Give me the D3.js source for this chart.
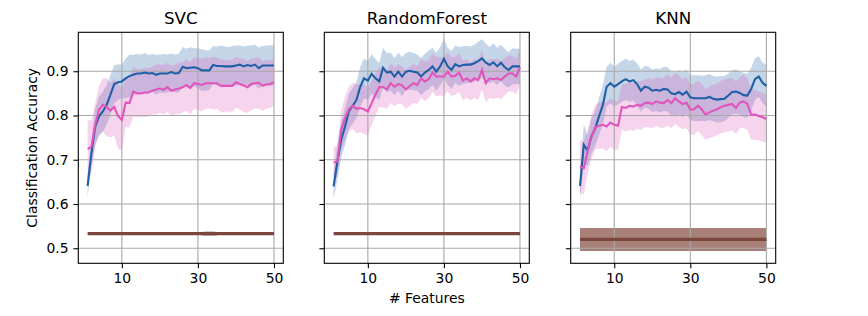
<!DOCTYPE html>
<html>
<head>
<meta charset="utf-8">
<script src="https://cdn.jsdelivr.net/npm/d3@7"></script>
<style>
  body { margin: 0; background: #fff; }
  svg { font-family: "DejaVu Sans", sans-serif; }
  .grid line { stroke: #a8a8a8; stroke-width: 1.1px; }
</style>
</head>
<body>
<svg id="chart" width="868" height="316"></svg>
<script>
var features = [1,2,3,4,5,6,7,8,9,10,11,12,13,14,15,16,17,18,19,20,21,22,23,24,25,
  26,27,28,29,30,31,32,33,34,35,36,37,38,39,40,41,42,43,44,45,46,47,48,49,50];
var models = ["SVC", "RandomForest", "KNN"];
var xTicks = [10, 30, 50];
var yTicks = [0.5, 0.6, 0.7, 0.8, 0.9];

// blue series (mean and std per number of features)
var svcBlue = [0.641,0.715,0.775,0.798,0.809,0.824,0.847,0.871,0.875,0.877,
  0.884,0.889,0.892,0.895,0.895,0.897,0.895,0.896,0.892,0.895,
  0.895,0.895,0.898,0.895,0.896,0.910,0.907,0.908,0.909,0.907,
  0.902,0.902,0.902,0.914,0.912,0.912,0.911,0.911,0.911,0.913,
  0.915,0.911,0.914,0.912,0.915,0.907,0.913,0.913,0.913,0.913];
var svcBlueStd = [0.025,0.03,0.04,0.045,0.045,0.045,0.045,0.043,0.04,0.038,
  0.045,0.048,0.045,0.044,0.043,0.044,0.042,0.043,0.045,0.043,
  0.044,0.043,0.042,0.043,0.044,0.045,0.044,0.046,0.043,0.045,
  0.047,0.046,0.045,0.043,0.044,0.046,0.045,0.044,0.046,0.045,
  0.043,0.045,0.044,0.046,0.045,0.047,0.044,0.045,0.046,0.045];
var rfBlue = [0.640,0.696,0.745,0.775,0.809,0.822,0.835,0.865,0.884,0.879,
  0.894,0.884,0.877,0.908,0.897,0.899,0.888,0.899,0.888,0.899,
  0.901,0.899,0.897,0.888,0.897,0.903,0.911,0.899,0.911,0.928,
  0.911,0.903,0.916,0.911,0.914,0.915,0.915,0.918,0.923,0.929,
  0.920,0.914,0.920,0.911,0.919,0.909,0.903,0.911,0.911,0.911];
var rfBlueStd = [0.03,0.04,0.04,0.042,0.04,0.04,0.042,0.045,0.045,0.044,
  0.045,0.043,0.042,0.045,0.044,0.043,0.042,0.043,0.044,0.042,
  0.043,0.042,0.041,0.042,0.043,0.044,0.042,0.043,0.044,0.045,
  0.042,0.043,0.042,0.044,0.043,0.042,0.041,0.042,0.043,0.044,
  0.042,0.041,0.043,0.042,0.041,0.042,0.04,0.041,0.04,0.04];
var knnBlue = [0.641,0.734,0.721,0.753,0.771,0.798,0.824,0.865,0.873,0.865,
  0.871,0.877,0.882,0.877,0.880,0.871,0.856,0.865,0.863,0.856,
  0.858,0.856,0.860,0.859,0.850,0.848,0.853,0.847,0.854,0.841,
  0.839,0.839,0.839,0.839,0.842,0.838,0.836,0.837,0.838,0.845,
  0.853,0.854,0.851,0.846,0.845,0.860,0.882,0.888,0.874,0.867];
var knnBlueStd = [0.03,0.045,0.035,0.04,0.04,0.042,0.045,0.045,0.046,0.045,
  0.046,0.046,0.047,0.046,0.046,0.047,0.048,0.047,0.048,0.048,
  0.048,0.049,0.05,0.05,0.05,0.05,0.05,0.051,0.05,0.051,
  0.052,0.052,0.051,0.052,0.052,0.051,0.052,0.052,0.051,0.05,
  0.05,0.05,0.049,0.05,0.05,0.048,0.047,0.046,0.046,0.047];

// pink series
var svcPink = [0.724,0.729,0.779,0.813,0.824,0.819,0.811,0.819,0.799,0.790,
  0.829,0.828,0.854,0.850,0.850,0.852,0.852,0.856,0.859,0.861,
  0.858,0.864,0.856,0.859,0.861,0.864,0.869,0.862,0.873,0.871,
  0.869,0.873,0.873,0.873,0.873,0.867,0.867,0.867,0.867,0.875,
  0.871,0.868,0.864,0.871,0.873,0.874,0.867,0.870,0.871,0.875];
var svcPinkStd = [0.065,0.06,0.05,0.055,0.06,0.066,0.06,0.065,0.073,0.07,
  0.055,0.055,0.056,0.055,0.054,0.056,0.055,0.054,0.056,0.055,
  0.056,0.055,0.057,0.056,0.058,0.057,0.058,0.06,0.058,0.059,
  0.06,0.058,0.057,0.06,0.058,0.059,0.06,0.058,0.059,0.057,
  0.058,0.06,0.058,0.059,0.057,0.058,0.056,0.055,0.054,0.052];
var rfPink = [0.694,0.696,0.768,0.794,0.814,0.822,0.815,0.817,0.814,0.809,
  0.828,0.847,0.864,0.864,0.859,0.873,0.865,0.871,0.868,0.859,
  0.866,0.873,0.869,0.884,0.877,0.882,0.897,0.888,0.888,0.888,
  0.899,0.888,0.890,0.897,0.879,0.884,0.877,0.884,0.880,0.903,
  0.873,0.884,0.882,0.884,0.880,0.888,0.895,0.895,0.888,0.909];
var rfPinkStd = [0.035,0.035,0.045,0.05,0.05,0.052,0.055,0.055,0.055,0.055,
  0.05,0.048,0.045,0.046,0.044,0.045,0.044,0.045,0.043,0.044,
  0.045,0.044,0.043,0.044,0.045,0.043,0.044,0.045,0.043,0.044,
  0.045,0.044,0.043,0.044,0.045,0.044,0.043,0.044,0.045,0.044,
  0.043,0.044,0.045,0.044,0.043,0.042,0.041,0.04,0.04,0.04];
var knnPink = [0.685,0.681,0.719,0.751,0.774,0.777,0.779,0.775,0.784,0.779,
  0.777,0.819,0.817,0.822,0.820,0.824,0.822,0.828,0.829,0.826,
  0.832,0.829,0.828,0.835,0.828,0.839,0.832,0.826,0.829,0.813,
  0.814,0.822,0.814,0.802,0.807,0.811,0.814,0.819,0.822,0.824,
  0.826,0.817,0.829,0.832,0.826,0.802,0.802,0.799,0.796,0.792];
var knnPinkStd = [0.06,0.06,0.05,0.05,0.05,0.052,0.053,0.055,0.055,0.055,
  0.055,0.052,0.053,0.054,0.055,0.054,0.055,0.054,0.056,0.055,
  0.055,0.056,0.057,0.058,0.057,0.058,0.058,0.057,0.058,0.057,
  0.058,0.057,0.058,0.057,0.058,0.059,0.058,0.059,0.06,0.06,
  0.06,0.059,0.058,0.06,0.058,0.057,0.056,0.055,0.055,0.054];

// brown (chance level) series
var svcChance = 0.533;
var svcChanceStd = [0.001,0.001,0.001,0.001,0.001,0.001,0.001,0.001,0.001,0.001,
  0.001,0.001,0.001,0.001,0.001,0.001,0.001,0.001,0.001,0.001,
  0.001,0.001,0.001,0.001,0.001,0.001,0.001,0.001,0.001,0.001,
  0.004,0.005,0.005,0.005,0.004,0.001,0.001,0.001,0.001,0.001,
  0.001,0.001,0.001,0.001,0.001,0.001,0.001,0.001,0.001,0.001];
var rfChance = 0.533, rfChanceStd = 0.001;
var knnChance = 0.520, knnChanceStd = 0.026;

function constant(v) { return features.map(function() { return v; }); }

var panels = [
  { name: models[0], blue: svcBlue, blueStd: svcBlueStd, pink: svcPink, pinkStd: svcPinkStd,
    chance: constant(svcChance), chanceStd: svcChanceStd, chanceAlpha: 0.6 },
  { name: models[1], blue: rfBlue, blueStd: rfBlueStd, pink: rfPink, pinkStd: rfPinkStd,
    chance: constant(rfChance), chanceStd: constant(rfChanceStd), chanceAlpha: 0.6 },
  { name: models[2], blue: knnBlue, blueStd: knnBlueStd, pink: knnPink, pinkStd: knnPinkStd,
    chance: constant(knnChance), chanceStd: constant(knnChanceStd), chanceAlpha: 0.75 }
];

var svg = d3.select("#chart");
svg.append("rect").attr("width", 868).attr("height", 316).attr("fill", "#fff");

var lefts = [78.3, 324.3, 570.7],
  marginTop = 32.3,
  width = 205,
  height = 231;

var x = d3.scaleLinear().domain([-1.45, 52.45]).range([0, width]),
  y = d3.scaleLinear().domain([0.466, 0.988]).range([height, 0]);

var blueColor = "#1f5fa6", pinkColor = "#e055bb", brownColor = "#7d463d", brownFill = "#8c564b";

function drawPanel(p, i) {
  var g = svg.append("g").attr("transform", "translate(" + lefts[i] + "," + marginTop + ")");

  function area(mean, std) {
    return d3.area()
      .x(function(d, j) { return x(features[j]); })
      .y0(function(d, j) { return y(mean[j] - std[j]); })
      .y1(function(d, j) { return y(mean[j] + std[j]); })(mean);
  }
  function line(mean) {
    return d3.line()
      .x(function(d, j) { return x(features[j]); })
      .y(function(d) { return y(d); })(mean);
  }

  g.append("path").attr("d", area(p.blue, p.blueStd)).attr("fill", blueColor).attr("fill-opacity", 0.26);
  g.append("path").attr("d", area(p.pink, p.pinkStd)).attr("fill", pinkColor).attr("fill-opacity", 0.25);
  g.append("path").attr("d", area(p.chance, p.chanceStd)).attr("fill", brownFill).attr("fill-opacity", p.chanceAlpha);

  // grid
  g.append("g").attr("class", "grid")
    .selectAll("line.v").data(xTicks).enter().append("line")
    .attr("x1", function(d) { return x(d); }).attr("x2", function(d) { return x(d); })
    .attr("y1", 0).attr("y2", height);
  g.append("g").attr("class", "grid")
    .selectAll("line.h").data(yTicks).enter().append("line")
    .attr("y1", function(d) { return y(d); }).attr("y2", function(d) { return y(d); })
    .attr("x1", 0).attr("x2", width);

  g.append("path").attr("d", line(p.blue)).attr("fill", "none")
    .attr("stroke", blueColor).attr("stroke-width", 2.1);
  g.append("path").attr("d", line(p.pink)).attr("fill", "none")
    .attr("stroke", pinkColor).attr("stroke-width", 2.1);
  g.append("path").attr("d", line(p.chance)).attr("fill", "none")
    .attr("stroke", brownColor).attr("stroke-width", 3.2);

  // axes
  var xAxis = g.append("g")
    .attr("transform", "translate(0," + height + ")")
    .call(d3.axisBottom(x).tickValues(xTicks).tickSize(4.9).tickPadding(4.9));
  var yAxis = g.append("g")
    .call(d3.axisLeft(y).tickValues(yTicks).tickSize(4.9).tickPadding(4.9)
      .tickFormat(i === 0 ? d3.format(".1f") : function() { return ""; }));
  [xAxis, yAxis].forEach(function(a) {
    a.attr("font-family", "DejaVu Sans").attr("font-size", null);
    a.select(".domain").remove();
    a.selectAll("line").attr("stroke", "#000").attr("stroke-width", 1.1);
    a.selectAll("text").attr("fill", "#000").style("font-size", "13.9px");
  });

  g.append("rect").attr("width", width).attr("height", height)
    .attr("fill", "none").attr("stroke", "#000").attr("stroke-width", 1.1);

  g.append("text")
    .attr("x", width / 2).attr("y", -8.3)
    .attr("text-anchor", "middle")
    .style("font-size", "16.7px")
    .text(p.name);
}

panels.forEach(drawPanel);

svg.append("text")
  .attr("transform", "translate(36.5," + (marginTop + height / 2) + ") rotate(-90)")
  .attr("text-anchor", "middle")
  .style("font-size", "13.9px")
  .text("Classification Accuracy");

svg.append("text")
  .attr("x", lefts[1] + width / 2).attr("y", 303)
  .attr("text-anchor", "middle")
  .style("font-size", "13.9px")
  .text("# Features");
</script>
</body>
</html>
